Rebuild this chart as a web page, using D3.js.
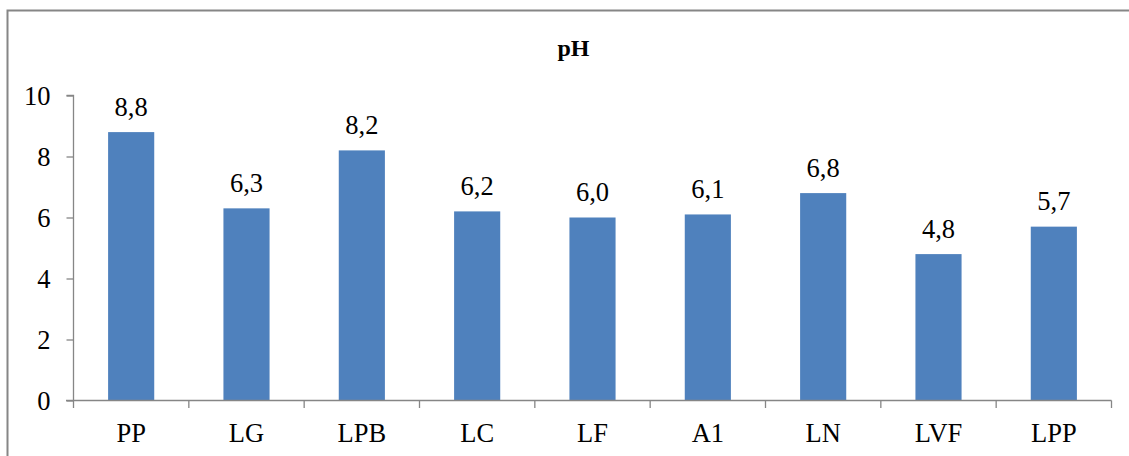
<!DOCTYPE html>
<html><head><meta charset="utf-8">
<script src="https://cdn.jsdelivr.net/npm/d3@7"></script>
<style>body{margin:0;background:#fff}svg{display:block}</style>
</head><body>
<script>
const categories = ["PP","LG","LPB","LC","LF","A1","LN","LVF","LPP"];
const values = [8.8,6.3,8.2,6.2,6.0,6.1,6.8,4.8,5.7];
const yTicks = [0,2,4,6,8,10];
const title = "pH";

const W = 1129, H = 456;
const svg = d3.select("body").append("svg").attr("width", W).attr("height", H);
const font = "Liberation Serif";
const fs = 26.5;

// frame
svg.append("path").attr("d", `M7.5,${H+5} V10.5 H${W+5}`).attr("fill","none").attr("stroke","#868686").attr("stroke-width",2);

const x = d3.scaleBand().domain(categories).range([73.5, 1111.5]).paddingInner(0.6).paddingOuter(0.3);
const y = d3.scaleLinear().domain([0,10]).range([400.5, 95.5]);

// title
svg.append("text").attr("x", 573.5).attr("y", 56).attr("text-anchor","middle")
  .attr("font-family", font).attr("font-weight","bold").attr("font-size", 24).text(title);

// bars
svg.selectAll("rect.bar").data(values).join("rect").attr("class","bar")
  .attr("x", (d,i)=>x(categories[i])).attr("width", x.bandwidth())
  .attr("y", d=>y(d)).attr("height", d=>y(0)-y(d)).attr("fill","#4F81BD");

// value labels
svg.selectAll("text.val").data(values).join("text").attr("class","val")
  .attr("x", (d,i)=>x(categories[i]) + x.bandwidth()/2).attr("y", d=>y(d)-16.5)
  .attr("text-anchor","middle").attr("font-family", font).attr("font-size", fs)
  .text(d=>d.toFixed(1).replace(".", ","));

// y axis
const yAxis = svg.append("g").attr("transform","translate(73.5,0)")
  .call(d3.axisLeft(y).tickValues(yTicks).tickSize(7).tickPadding(16).tickFormat(d=>d));
yAxis.selectAll("path,line").attr("stroke","#868686").attr("stroke-width",1.3);
yAxis.select(".domain").attr("d", `M-7,${y(10)}H0V${y(0)}`);
yAxis.selectAll("text").attr("font-family", font).attr("font-size", fs).attr("fill","#000").attr("dy","0.34em");

// x axis
const xAxis = svg.append("g").attr("transform",`translate(0,${y(0)})`);
xAxis.append("line").attr("x1",66).attr("x2",1111.5).attr("y1",0).attr("y2",0).attr("stroke","#868686").attr("stroke-width",1.3);
const boundaries = d3.range(categories.length+1).map(i => 73.5 + i*(1111.5-73.5)/categories.length);
xAxis.selectAll("line.tk").data(boundaries).join("line").attr("class","tk")
  .attr("x1",d=>d).attr("x2",d=>d).attr("y1",0).attr("y2",7.5).attr("stroke","#868686").attr("stroke-width",1.3);
xAxis.selectAll("text").data(categories).join("text")
  .attr("x", d=>x(d)+x.bandwidth()/2).attr("y", 41.5).attr("text-anchor","middle")
  .attr("font-family", font).attr("font-size", fs).attr("fill","#000").text(d=>d);
</script>
</body></html>
